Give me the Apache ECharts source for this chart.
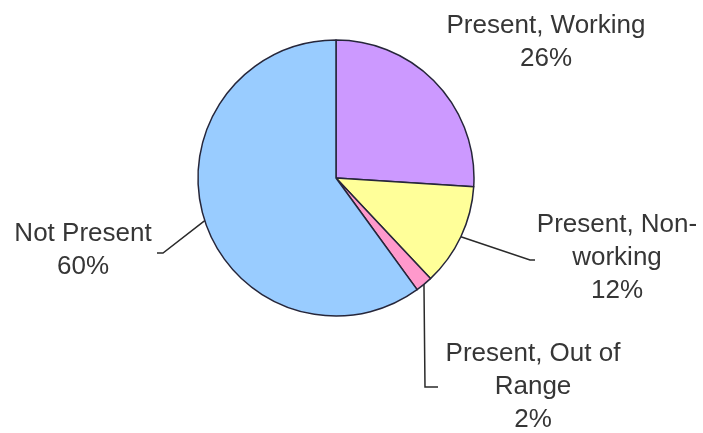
<!DOCTYPE html>
<html>
<head>
<meta charset="utf-8">
<script src="https://cdn.jsdelivr.net/npm/echarts@6/dist/echarts.min.js"></script>
<style>
html,body{margin:0;padding:0;background:#fff;}
#c{width:703px;height:433px;}
</style>
</head>
<body>
<div id="c"></div>
<script>
const categories = ['Present, Working', 'Present, Non-\nworking', 'Present, Out of\nRange', 'Not Present'];
const values = [26, 12, 2, 60];
const colors = ['#CC99FF', '#FFFF99', '#FF99CC', '#99CCFF'];

// label placement (label block centre, elbow and end of leader line)
const labelPos = [
  { x: 546, y: 42, line: null },
  { x: 617, y: 258, line: [[530, 260], [535, 260]] },
  { x: 533, y: 387, line: [[425, 387], [438, 387]] },
  { x: 83, y: 250, line: [[163, 253], [157, 253]] }
];

const chart = echarts.init(document.getElementById('c'));
chart.setOption({
  animation: false,
  backgroundColor: '#ffffff',
  series: [{
    type: 'pie',
    center: [336, 178],
    radius: 138,
    startAngle: 90,
    clockwise: true,
    data: categories.map((n, i) => ({
      name: n,
      value: values[i],
      itemStyle: { color: colors[i] },
      labelLine: { show: i !== 0 }
    })),
    itemStyle: { borderColor: '#26263a', borderWidth: 1.5 },
    label: {
      show: true,
      position: 'outside',
      formatter: p => p.name + '\n' + p.value + '%',
      fontFamily: 'Liberation Sans, Arial, sans-serif',
      fontSize: 26,
      lineHeight: 33,
      color: '#363636',
      align: 'center'
    },
    labelLine: {
      show: true,
      lineStyle: { color: '#2a2a2a', width: 1.5 }
    },
    labelLayout: function (params) {
      const lp = labelPos[params.dataIndex];
      const res = { x: lp.x, y: lp.y, align: 'center', verticalAlign: 'middle' };
      if (lp.line && params.labelLinePoints) {
        res.labelLinePoints = [params.labelLinePoints[0], lp.line[0], lp.line[1]];
      }
      return res;
    }
  }]
});
</script>
</body>
</html>
